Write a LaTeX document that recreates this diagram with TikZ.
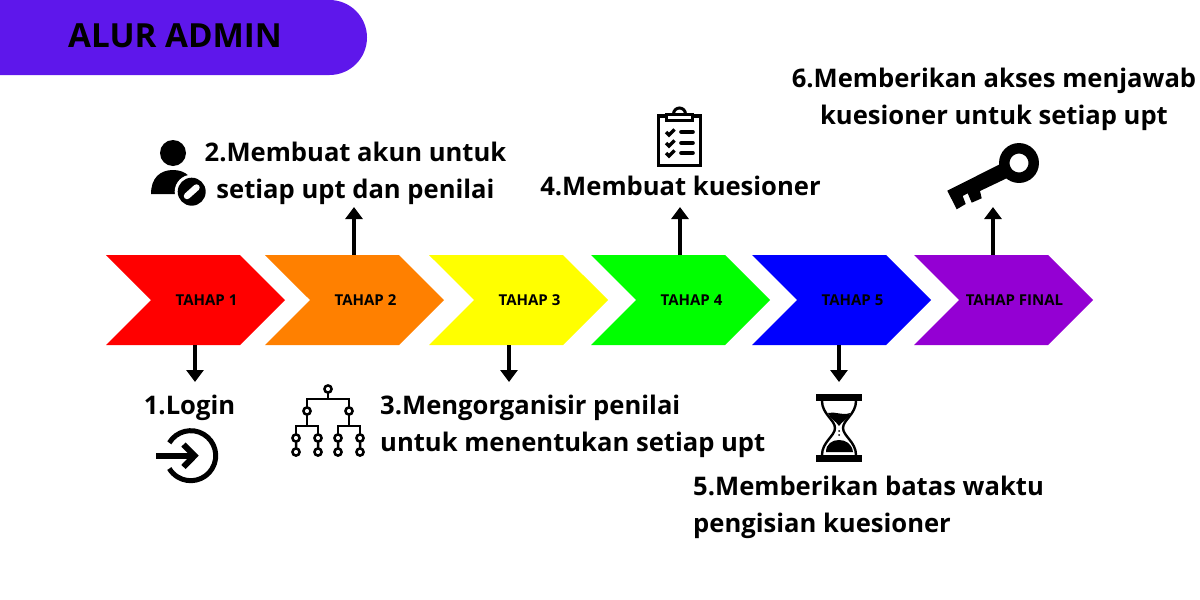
\documentclass[tikz,border=0pt]{standalone}
\usepackage{fontspec}
\setmainfont{Open Sans}
\usetikzlibrary{shapes.symbols,arrows.meta}

\definecolor{pillviolet}{HTML}{5E17EB}
\definecolor{redstep}{HTML}{FF0000}
\definecolor{orangestep}{HTML}{FF8000}
\definecolor{yellowstep}{HTML}{FFFF00}
\definecolor{greenstep}{HTML}{00FF00}
\definecolor{bluestep}{HTML}{0000FF}
\definecolor{purplestep}{HTML}{9400D3}

\tikzstyle{arrow} = [line width=4pt,-{Triangle[width=17pt,length=12pt]}]
\tikzstyle{chevron} = [signal,signal from=west,signal to=east,signal pointer angle=90,minimum width=179pt,minimum height=90pt,inner sep=0pt,outer sep=0pt,draw=none]
\tikzstyle{tahap} = [font=\bfseries\fontsize{15}{17}\selectfont,inner sep=0pt]
\tikzstyle{steptext} = [font=\bfseries\fontsize{25.6}{37}\selectfont,inner sep=0pt]
\tikzstyle{treeline} = [line width=2.5pt]

\begin{document}
\begin{tikzpicture}[x=1pt,y=-1pt]
\useasboundingbox (0,0) rectangle (1200,600);

% Title
\fill [pillviolet] (0,0) -- (329.5,0) arc [start angle=-90,end angle=90,radius=37.5] -- (0,75) -- cycle;
\node [anchor=base west,inner sep=0pt,font=\bfseries\fontsize{33.2}{38}\selectfont] (title) at (68,47) {ALUR ADMIN};

% Chevrons
\foreach \n/\x/\c/\t in {t1/195.5/redstep/TAHAP 1,t2/354.5/orangestep/TAHAP 2,t3/518.5/yellowstep/TAHAP 3,t4/680.5/greenstep/TAHAP 4,t5/841.5/bluestep/TAHAP 5,t6/1003.5/purplestep/TAHAP FINAL}{
  \node [chevron,fill=\c] (\n) at (\x,300) {};
  \node [tahap] (label\n) at ([xshift=11pt]\n.center) {\t};
}

% Arrows
\coordinate (a1) at (195,382);
\coordinate (a2) at (354,207);
\coordinate (a3) at (509,382);
\coordinate (a4) at (680,207);
\coordinate (a5) at (839,382);
\coordinate (a6) at (993,207);
\draw [arrow] (a1 |- t1.south) -- (a1);
\draw [arrow] (a2 |- t2.north) -- (a2);
\draw [arrow] (a3 |- t3.south) -- (a3);
\draw [arrow] (a4 |- t4.north) -- (a4);
\draw [arrow] (a5 |- t5.south) -- (a5);
\draw [arrow] (a6 |- t6.north) -- (a6);

% Steps
\node [steptext,anchor=base] (step1) at (189.5,414) {1.Login};
\node [steptext,anchor=base,align=center] (step2) at (355.5,198) {2.Membuat akun untuk\\setiap upt dan penilai};
\node [steptext,anchor=base west,align=left] (step3) at (380,451) {3.Mengorganisir penilai\\untuk menentukan setiap upt};
\node [steptext,anchor=base] (step4) at (680.5,195) {4.Membuat kuesioner};
\node [steptext,anchor=base west,align=left] (step5) at (693,532) {5.Memberikan batas waktu\\pengisian kuesioner};
\node [steptext,anchor=base,align=center] (step6) at (994,124) {6.Memberikan akses menjawab\\kuesioner untuk setiap upt};

% Person icon
\fill (173,153) circle (13);
\fill (151,194) .. controls (151,178) and (160,170) .. (173,170) .. controls (186,170) and (195,178) .. (195,194) -- cycle;
\fill [white] (191.7,191.7) circle (17);
\fill (191.7,191.7) circle (14);
\draw [white,line width=6.5pt,line cap=round] (187,196) -- (196.5,187.5);

% Clipboard icon
\draw [line width=3.5pt] (666,116) -- (658.5,116) -- (658.5,165.5) -- (700.5,165.5) -- (700.5,116) -- (693,116);
\draw [line width=3pt,fill=white] (666.5,114.5) rectangle (692.5,120);
\draw [line width=3pt] (673.5,114) arc [start angle=180,end angle=360,radius=6];
\foreach \y in {132,143,153}{
  \draw [line width=3.4pt] (666,\y) -- (669,\y+3) -- (674.5,\y-2.5);
  \draw [line width=3.6pt,line cap=round] (681,\y) -- (693,\y);
}

% Key icon
\draw [line width=10.5pt] (1019,163) circle (14.7);
\fill (947.3,190.7) -- (1001.7,163.3) -- (1010,176.7) -- (980,191) -- (981.7,198.3) -- (971.7,202.7) -- (967.7,193.3) -- (962.7,196) -- (965.7,204) -- (956.7,209.3) -- cycle;

% Hierarchy icon
\draw [treeline] (328,393) -- (328,399) (307,407) -- (307,399) -- (349,399) -- (349,407);
\draw [treeline] (307,415) -- (307,426) (349,415) -- (349,426);
\draw [treeline] (296,434) -- (296,426) -- (318,426) -- (318,434);
\draw [treeline] (338,434) -- (338,426) -- (360,426) -- (360,434);
\draw [treeline] (328,389) circle (3.6) (307,411) circle (3.6) (349,411) circle (3.6);
\foreach \x in {296,318,338,360}{
  \draw [treeline] (\x,438) circle (3.6) (\x,452) circle (3.6) (\x,441.6) -- (\x,448.4);
}

% Login icon
\draw [line width=5pt] (169.3,442.8) arc [start angle=-149,end angle=149,radius=25];
\draw [line width=6pt] (156,455.7) -- (192,455.7);
\draw [line width=6pt] (183.5,444.5) -- (194.5,455.7) -- (183.5,467);

% Hourglass icon
\fill (816,394) rectangle (862,401);
\fill (816,455) rectangle (862,462);
\draw [line width=2.4pt] (822,401) .. controls (822,414) and (835,420) .. (835,428) .. controls (835,436) and (822,442) .. (822,455);
\draw [line width=2.4pt] (856,401) .. controls (856,414) and (843,420) .. (843,428) .. controls (843,436) and (856,442) .. (856,455);
\fill (828,413) .. controls (835,411) and (842,416) .. (850,413) .. controls (849,419) and (842,421) .. (839,426) .. controls (836,421) and (830,419) .. (828,413) -- cycle;
\fill (826,452) .. controls (826,444) and (832,440) .. (839,440) .. controls (846,440) and (852,444) .. (853,452) -- cycle;
\fill (839,431) circle (1) (839,435) circle (1);

\end{tikzpicture}
\end{document}
